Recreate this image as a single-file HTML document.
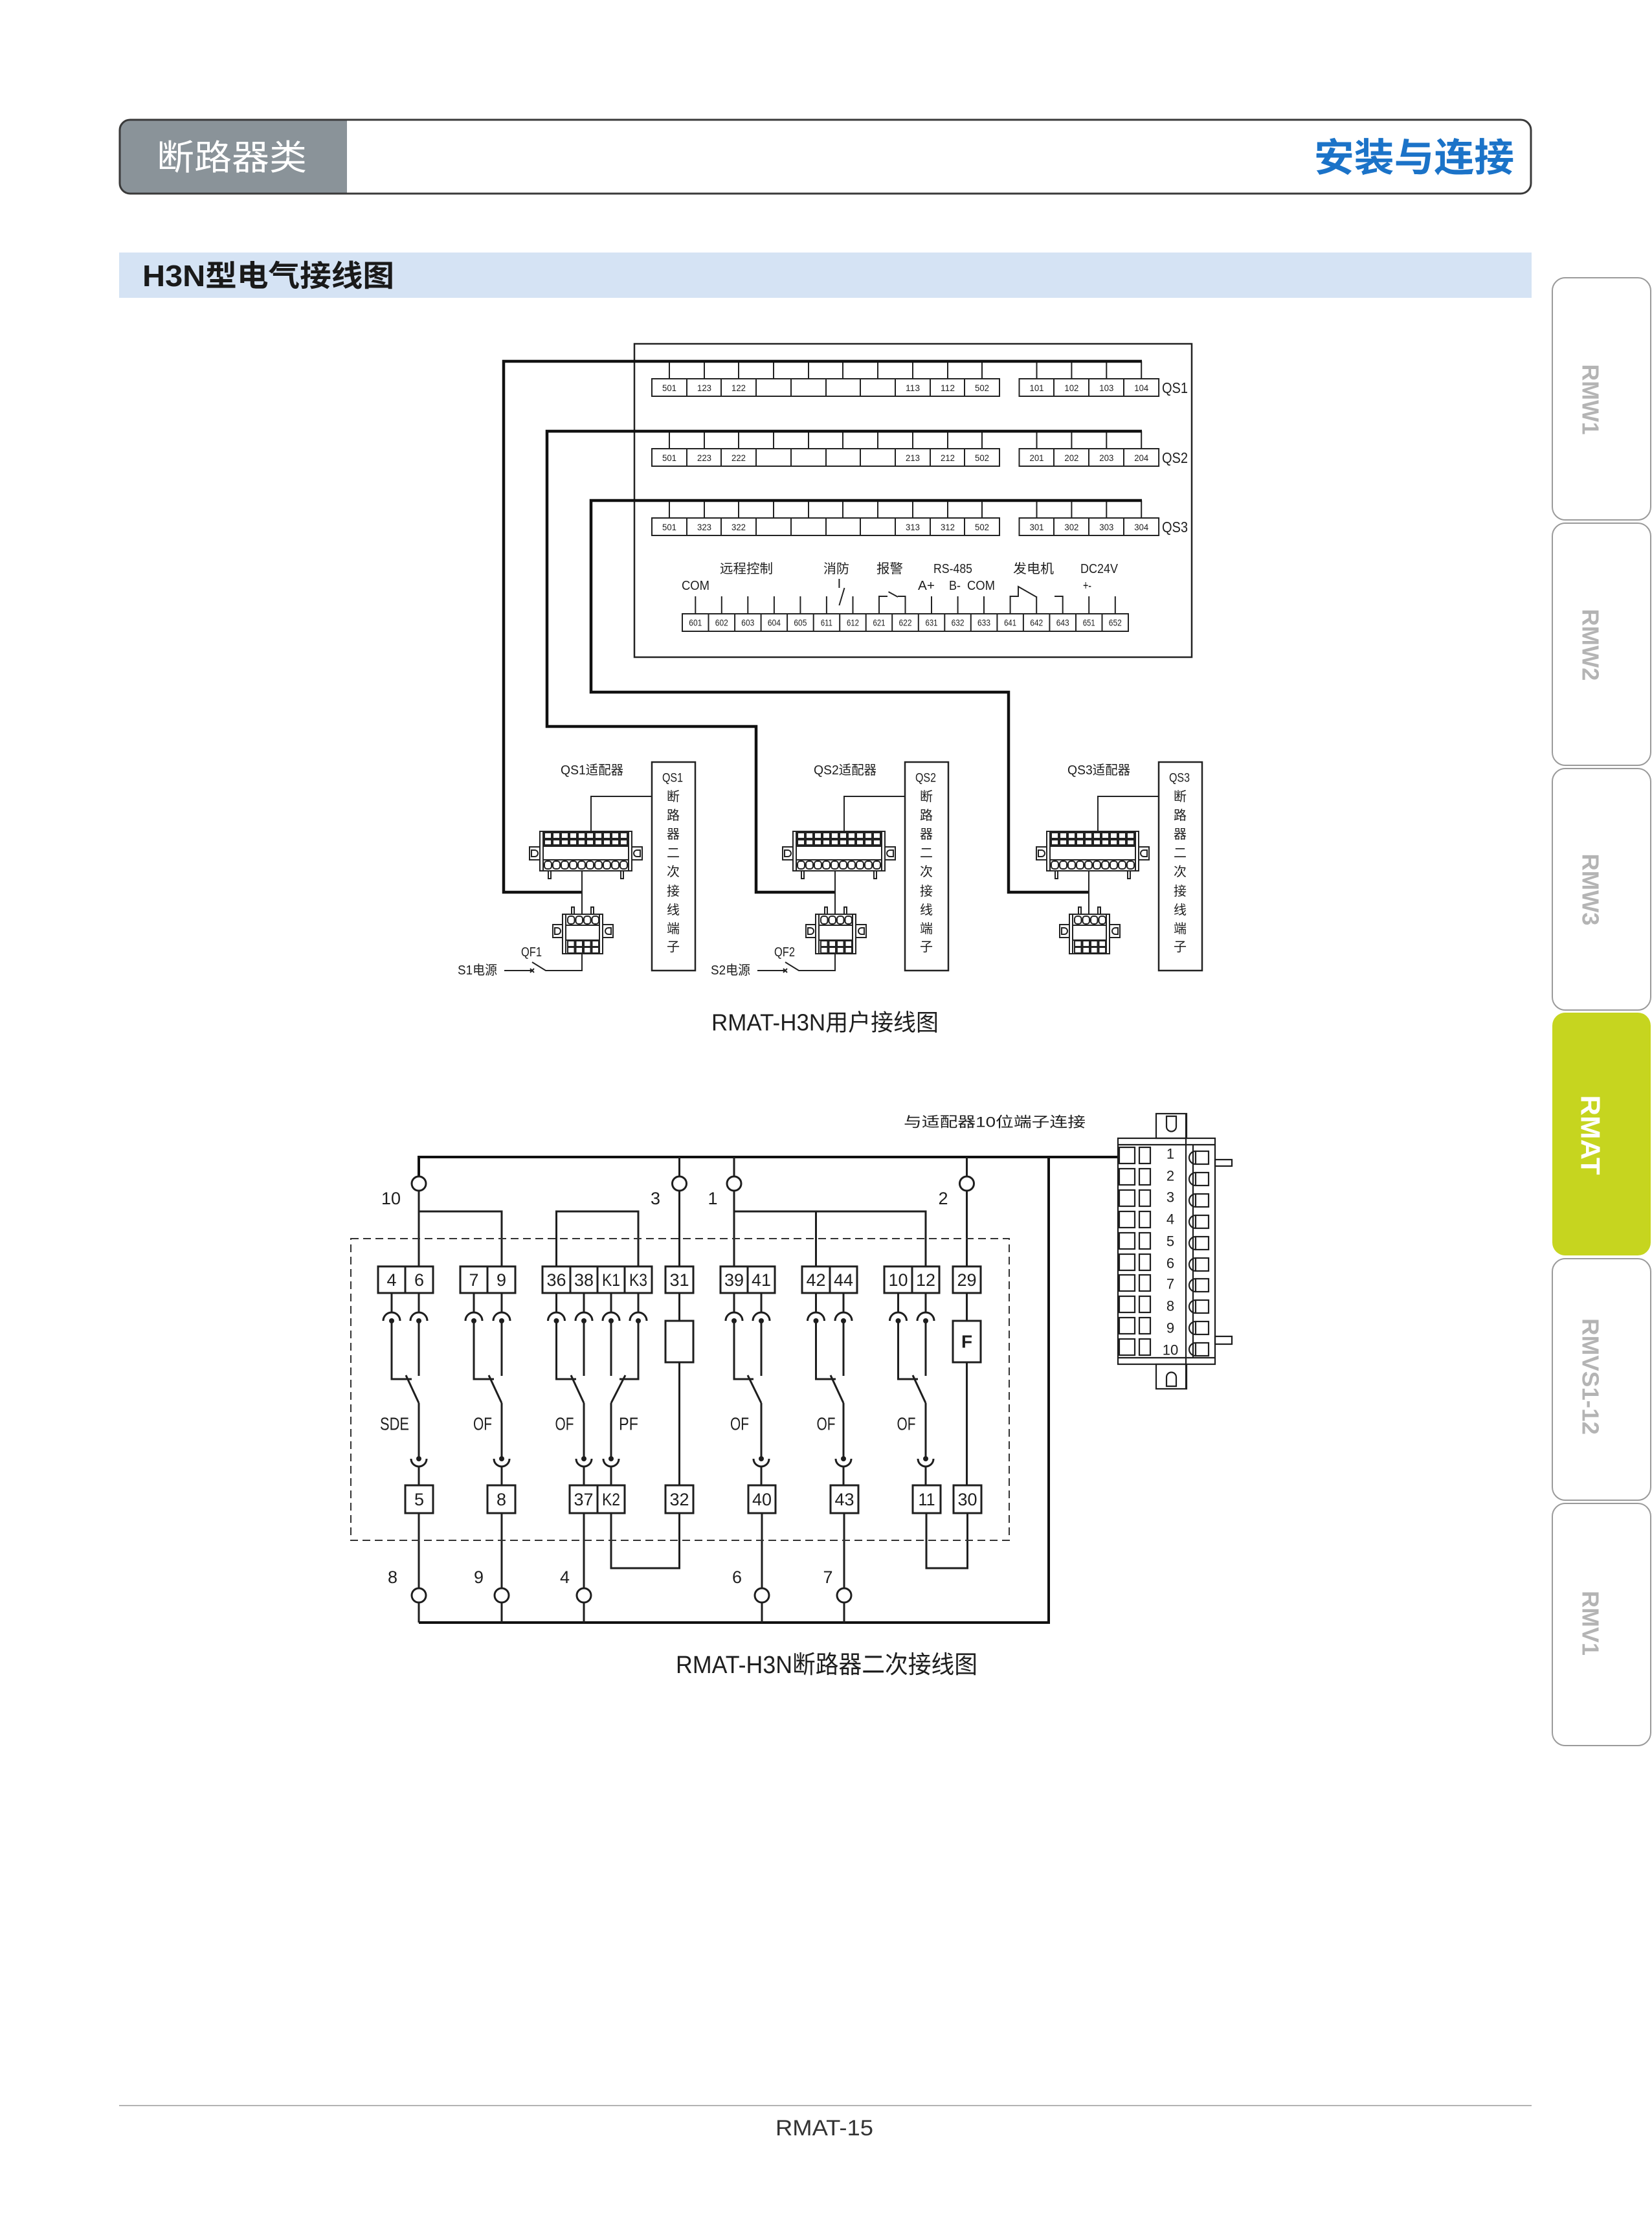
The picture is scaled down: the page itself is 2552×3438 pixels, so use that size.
<!DOCTYPE html>
<html><head><meta charset="utf-8">
<style>
html,body{margin:0;padding:0;background:#fff;}
svg{display:block;}
text{font-family:"Liberation Sans","Noto Sans CJK SC",sans-serif;fill:#1e1e1e;}
</style></head><body>
<svg width="2552" height="3438" viewBox="0 0 2552 3438" xmlns="http://www.w3.org/2000/svg">
<defs>
<g id="trow" fill="none" stroke="#222" stroke-width="2">
<path d="M1034,558V585M1088,558V585M1141,558V585M1195,558V585M1249,558V585M1302,558V585M1356,558V585M1410,558V585M1464,558V585M1517,558V585M1601.5,558V585M1655.4,558V585M1709.3,558V585M1763.2,558V585"/>
<rect x="1007" y="585" width="537" height="27"/>
<path d="M1061,585V612M1114,585V612M1168,585V612M1222,585V612M1276,585V612M1329,585V612M1383,585V612M1437,585V612M1490,585V612"/>
<rect x="1574.5" y="585" width="215.6" height="27"/>
<path d="M1628,585V612M1682,585V612M1736,585V612"/>
</g>
<g id="adapter" fill="none" stroke="#222" stroke-width="2">
<rect x="0" y="0" width="142" height="61"/>
<line x1="5" y1="0" x2="5" y2="61"/><line x1="137" y1="0" x2="137" y2="61"/>
<rect x="7" y="2" width="11" height="9"/><rect x="20" y="2" width="11" height="9"/><rect x="33" y="2" width="11" height="9"/><rect x="46" y="2" width="11" height="9"/><rect x="59" y="2" width="11" height="9"/><rect x="72" y="2" width="11" height="9"/><rect x="85" y="2" width="11" height="9"/><rect x="98" y="2" width="11" height="9"/><rect x="111" y="2" width="11" height="9"/><rect x="124" y="2" width="11" height="9"/>
<rect x="7" y="13" width="11" height="8"/><rect x="20" y="13" width="11" height="8"/><rect x="33" y="13" width="11" height="8"/><rect x="46" y="13" width="11" height="8"/><rect x="59" y="13" width="11" height="8"/><rect x="72" y="13" width="11" height="8"/><rect x="85" y="13" width="11" height="8"/><rect x="98" y="13" width="11" height="8"/><rect x="111" y="13" width="11" height="8"/><rect x="124" y="13" width="11" height="8"/>
<line x1="5" y1="23" x2="137" y2="23"/><line x1="5" y1="44" x2="137" y2="44"/>
<rect x="7" y="46" width="11" height="12" rx="4"/><rect x="20" y="46" width="11" height="12" rx="4"/><rect x="33" y="46" width="11" height="12" rx="4"/><rect x="46" y="46" width="11" height="12" rx="4"/><rect x="59" y="46" width="11" height="12" rx="4"/><rect x="72" y="46" width="11" height="12" rx="4"/><rect x="85" y="46" width="11" height="12" rx="4"/><rect x="98" y="46" width="11" height="12" rx="4"/><rect x="111" y="46" width="11" height="12" rx="4"/><rect x="124" y="46" width="11" height="12" rx="4"/>
<rect x="-16" y="24" width="16" height="20"/><path d="M-13,29h5a5,5 0 0 1 0,10h-5Z"/>
<rect x="142" y="24" width="16" height="20"/><path d="M155,29h-5a5,5 0 0 0 0,10h5Z"/>
<rect x="13" y="61" width="4" height="12"/><rect x="125" y="61" width="4" height="12"/>
</g>
<g id="conn4" fill="none" stroke="#222" stroke-width="2">
<rect x="0" y="0" width="62" height="61"/>
<line x1="5" y1="0" x2="5" y2="61"/><line x1="57" y1="0" x2="57" y2="61"/>
<rect x="14" y="-11" width="4" height="11"/><rect x="44" y="-11" width="4" height="11"/>
<rect x="8" y="3" width="10.5" height="12" rx="4"/><rect x="20.5" y="3" width="10.5" height="12" rx="4"/><rect x="33" y="3" width="10.5" height="12" rx="4"/><rect x="45.5" y="3" width="10.5" height="12" rx="4"/>
<line x1="5" y1="17" x2="57" y2="17"/><line x1="5" y1="40" x2="57" y2="40"/>
<rect x="-15" y="16" width="15" height="20"/><path d="M-12,21h4a5,5 0 0 1 0,10h-4Z"/>
<rect x="62" y="16" width="16" height="20"/><path d="M75,21h-4a5,5 0 0 0 0,10h4Z"/>
<rect x="8" y="41" width="10.5" height="9"/><rect x="20.5" y="41" width="10.5" height="9"/><rect x="33" y="41" width="10.5" height="9"/><rect x="45.5" y="41" width="10.5" height="9"/>
<rect x="8" y="51" width="10.5" height="9"/><rect x="20.5" y="51" width="10.5" height="9"/><rect x="33" y="51" width="10.5" height="9"/><rect x="45.5" y="51" width="10.5" height="9"/>
</g>
</defs>

<!-- Header -->
<path d="M536,185H201A16,16 0 0 0 185,201V283A16,16 0 0 0 201,299H536Z" fill="#8a9399"/>
<rect x="185" y="185" width="2180" height="114" rx="16" fill="none" stroke="#3a3a3a" stroke-width="3"/>
<text x="242" y="244" font-size="54" style="fill:#fff" dominant-baseline="central" textLength="232" lengthAdjust="spacingAndGlyphs">断路器类</text>
<text x="2030" y="244" font-size="60" font-weight="bold" style="fill:#1b73c8" dominant-baseline="central" textLength="309" lengthAdjust="spacingAndGlyphs">安装与连接</text>

<!-- Section bar -->
<rect x="184" y="390" width="2182" height="70" fill="#d5e3f4"/>
<text x="220" y="426" font-size="46" font-weight="bold" style="fill:#1a1a1a" dominant-baseline="central" textLength="389" lengthAdjust="spacingAndGlyphs">H3N型电气接线图</text>

<!-- Tabs -->
<g fill="#fff" stroke="#9a9a9a" stroke-width="2">
<rect x="2398" y="429" width="152" height="374" rx="20"/>
<rect x="2398" y="808" width="152" height="374" rx="20"/>
<rect x="2398" y="1187" width="152" height="373" rx="20"/>
<rect x="2398" y="1944" width="152" height="373" rx="20"/>
<rect x="2398" y="2322" width="152" height="374" rx="20"/>
</g>
<rect x="2398" y="1564" width="152" height="375" rx="20" fill="#c6d51f"/>
<g font-weight="bold" text-anchor="middle" dominant-baseline="central">
<text transform="translate(2457,617) rotate(90)" font-size="36" style="fill:#b4b4b4" textLength="109" lengthAdjust="spacingAndGlyphs">RMW1</text>
<text transform="translate(2457,996) rotate(90)" font-size="36" style="fill:#b4b4b4" textLength="111" lengthAdjust="spacingAndGlyphs">RMW2</text>
<text transform="translate(2457,1374) rotate(90)" font-size="36" style="fill:#b4b4b4" textLength="111" lengthAdjust="spacingAndGlyphs">RMW3</text>
<text transform="translate(2457,1753) rotate(90)" font-size="42" style="fill:#fff" textLength="123" lengthAdjust="spacingAndGlyphs">RMAT</text>
<text transform="translate(2457,2126) rotate(90)" font-size="36" style="fill:#b4b4b4" textLength="180" lengthAdjust="spacingAndGlyphs">RMVS1-12</text>
<text transform="translate(2457,2507) rotate(90)" font-size="36" style="fill:#b4b4b4" textLength="100" lengthAdjust="spacingAndGlyphs">RMV1</text>
</g>

<!-- ============ Diagram 1 ============ -->
<rect x="980" y="531" width="861" height="484" fill="none" stroke="#222" stroke-width="2.5"/>
<use href="#trow"/>
<use href="#trow" transform="translate(0,108)"/>
<use href="#trow" transform="translate(0,215)"/>
<g font-size="14" text-anchor="middle" dominant-baseline="central">
<text x="1034" y="599" textLength="22" lengthAdjust="spacingAndGlyphs">501</text>
<text x="1088" y="599" textLength="22" lengthAdjust="spacingAndGlyphs">123</text>
<text x="1141" y="599" textLength="22" lengthAdjust="spacingAndGlyphs">122</text>
<text x="1410" y="599" textLength="22" lengthAdjust="spacingAndGlyphs">113</text>
<text x="1464" y="599" textLength="22" lengthAdjust="spacingAndGlyphs">112</text>
<text x="1517" y="599" textLength="22" lengthAdjust="spacingAndGlyphs">502</text>
<text x="1601.5" y="599" textLength="22" lengthAdjust="spacingAndGlyphs">101</text>
<text x="1655.4" y="599" textLength="22" lengthAdjust="spacingAndGlyphs">102</text>
<text x="1709.3" y="599" textLength="22" lengthAdjust="spacingAndGlyphs">103</text>
<text x="1763.2" y="599" textLength="22" lengthAdjust="spacingAndGlyphs">104</text>
<text x="1034" y="707" textLength="22" lengthAdjust="spacingAndGlyphs">501</text>
<text x="1088" y="707" textLength="22" lengthAdjust="spacingAndGlyphs">223</text>
<text x="1141" y="707" textLength="22" lengthAdjust="spacingAndGlyphs">222</text>
<text x="1410" y="707" textLength="22" lengthAdjust="spacingAndGlyphs">213</text>
<text x="1464" y="707" textLength="22" lengthAdjust="spacingAndGlyphs">212</text>
<text x="1517" y="707" textLength="22" lengthAdjust="spacingAndGlyphs">502</text>
<text x="1601.5" y="707" textLength="22" lengthAdjust="spacingAndGlyphs">201</text>
<text x="1655.4" y="707" textLength="22" lengthAdjust="spacingAndGlyphs">202</text>
<text x="1709.3" y="707" textLength="22" lengthAdjust="spacingAndGlyphs">203</text>
<text x="1763.2" y="707" textLength="22" lengthAdjust="spacingAndGlyphs">204</text>
<text x="1034" y="814" textLength="22" lengthAdjust="spacingAndGlyphs">501</text>
<text x="1088" y="814" textLength="22" lengthAdjust="spacingAndGlyphs">323</text>
<text x="1141" y="814" textLength="22" lengthAdjust="spacingAndGlyphs">322</text>
<text x="1410" y="814" textLength="22" lengthAdjust="spacingAndGlyphs">313</text>
<text x="1464" y="814" textLength="22" lengthAdjust="spacingAndGlyphs">312</text>
<text x="1517" y="814" textLength="22" lengthAdjust="spacingAndGlyphs">502</text>
<text x="1601.5" y="814" textLength="22" lengthAdjust="spacingAndGlyphs">301</text>
<text x="1655.4" y="814" textLength="22" lengthAdjust="spacingAndGlyphs">302</text>
<text x="1709.3" y="814" textLength="22" lengthAdjust="spacingAndGlyphs">303</text>
<text x="1763.2" y="814" textLength="22" lengthAdjust="spacingAndGlyphs">304</text>
</g>
<g font-size="23" dominant-baseline="central">
<text x="1795" y="599" textLength="40" lengthAdjust="spacingAndGlyphs">QS1</text>
<text x="1795" y="707" textLength="40" lengthAdjust="spacingAndGlyphs">QS2</text>
<text x="1795" y="814" textLength="40" lengthAdjust="spacingAndGlyphs">QS3</text>
</g>

<!-- bottom terminal block -->
<g fill="none" stroke="#222" stroke-width="2">
<rect x="1054" y="948" width="689" height="27"/>
<path d="M1094.5,948V975M1135.1,948V975M1175.6,948V975M1216.1,948V975M1256.7,948V975M1297.2,948V975M1337.7,948V975M1378.2,948V975M1418.8,948V975M1459.3,948V975M1499.8,948V975M1540.4,948V975M1580.9,948V975M1621.4,948V975M1662,948V975M1702.5,948V975"/>
<path d="M1074.3,921V948M1114.8,921V948M1155.3,921V948M1195.9,921V948M1236.4,921V948M1276.9,921V948M1317.5,921V948M1439,921V948M1479.6,921V948M1520,921V948M1682.2,921V948M1722.8,921V948"/>
<path d="M1296.4,894V908M1304.5,908L1296.4,935"/>
<path d="M1358,948V921H1371M1372.5,914L1387,922M1387,921H1398.5V948"/>
<path d="M1560.6,948V921H1573V906L1601,922M1601.2,921V948"/>
<path d="M1629,921H1641.7V948"/>
</g>
<g font-size="13.5" text-anchor="middle" dominant-baseline="central">
<text x="1074.3" y="962" textLength="20" lengthAdjust="spacingAndGlyphs">601</text>
<text x="1114.8" y="962" textLength="20" lengthAdjust="spacingAndGlyphs">602</text>
<text x="1155.3" y="962" textLength="20" lengthAdjust="spacingAndGlyphs">603</text>
<text x="1195.9" y="962" textLength="20" lengthAdjust="spacingAndGlyphs">604</text>
<text x="1236.4" y="962" textLength="20" lengthAdjust="spacingAndGlyphs">605</text>
<text x="1276.9" y="962" textLength="18" lengthAdjust="spacingAndGlyphs">611</text>
<text x="1317.5" y="962" textLength="19" lengthAdjust="spacingAndGlyphs">612</text>
<text x="1358" y="962" textLength="19" lengthAdjust="spacingAndGlyphs">621</text>
<text x="1398.5" y="962" textLength="20" lengthAdjust="spacingAndGlyphs">622</text>
<text x="1439" y="962" textLength="19" lengthAdjust="spacingAndGlyphs">631</text>
<text x="1479.6" y="962" textLength="20" lengthAdjust="spacingAndGlyphs">632</text>
<text x="1520" y="962" textLength="20" lengthAdjust="spacingAndGlyphs">633</text>
<text x="1560.6" y="962" textLength="19" lengthAdjust="spacingAndGlyphs">641</text>
<text x="1601.2" y="962" textLength="20" lengthAdjust="spacingAndGlyphs">642</text>
<text x="1641.7" y="962" textLength="20" lengthAdjust="spacingAndGlyphs">643</text>
<text x="1682.2" y="962" textLength="19" lengthAdjust="spacingAndGlyphs">651</text>
<text x="1722.8" y="962" textLength="20" lengthAdjust="spacingAndGlyphs">652</text>
</g>
<g font-size="20" dominant-baseline="central">
<text x="1112" y="879" textLength="82" lengthAdjust="spacingAndGlyphs">远程控制</text>
<text x="1272" y="879" textLength="40" lengthAdjust="spacingAndGlyphs">消防</text>
<text x="1354" y="879" textLength="41" lengthAdjust="spacingAndGlyphs">报警</text>
<text x="1442" y="879" textLength="60" lengthAdjust="spacingAndGlyphs">RS-485</text>
<text x="1565" y="879" textLength="63" lengthAdjust="spacingAndGlyphs">发电机</text>
<text x="1669" y="879" textLength="58" lengthAdjust="spacingAndGlyphs">DC24V</text>
<text x="1053" y="905" textLength="43" lengthAdjust="spacingAndGlyphs">COM</text>
<text x="1418" y="905" textLength="26" lengthAdjust="spacingAndGlyphs">A+</text>
<text x="1466" y="905" textLength="18" lengthAdjust="spacingAndGlyphs">B-</text>
<text x="1494" y="905" textLength="43" lengthAdjust="spacingAndGlyphs">COM</text>
<text x="1673" y="905" textLength="13" lengthAdjust="spacingAndGlyphs">+-</text>
</g>

<!-- thick connecting lines -->
<g fill="none" stroke="#111" stroke-width="4.5">
<path d="M1764,558H778V1378H899"/>
<path d="M1764,666H845V1122H1168V1378H1290"/>
<path d="M1764,773H913V1069H1558V1378H1682"/>
</g>

<!-- adapters: QS1 / QS2 / QS3 -->
<g id="qsgrp1">
<rect x="1007" y="1177" width="67" height="322" fill="none" stroke="#222" stroke-width="2.5"/>
<path d="M1007,1230H913V1284M899,1345V1412" fill="none" stroke="#222" stroke-width="2"/>
<use href="#adapter" transform="translate(834,1284)"/>
<use href="#conn4" transform="translate(869,1412)"/>
</g>
<use href="#qsgrp1" transform="translate(391,0)"/>
<use href="#qsgrp1" transform="translate(783,0)"/>
<!-- power switches -->
<g fill="none" stroke="#222" stroke-width="2">
<path d="M899,1473V1499H843L822,1486M779,1499H822M819,1496L825,1502M825,1496L819,1502"/>
<path d="M1290,1473V1499H1234L1213,1486M1170,1499H1213M1210,1496L1216,1502M1216,1496L1210,1502"/>
</g>
<g font-size="20" dominant-baseline="central">
<text x="866" y="1190" textLength="97" lengthAdjust="spacingAndGlyphs">QS1适配器</text>
<text x="1257" y="1190" textLength="97" lengthAdjust="spacingAndGlyphs">QS2适配器</text>
<text x="1649" y="1190" textLength="97" lengthAdjust="spacingAndGlyphs">QS3适配器</text>
<text x="805" y="1471" textLength="32" lengthAdjust="spacingAndGlyphs">QF1</text>
<text x="1196" y="1471" textLength="32" lengthAdjust="spacingAndGlyphs">QF2</text>
<text x="707" y="1499" textLength="61" lengthAdjust="spacingAndGlyphs">S1电源</text>
<text x="1098" y="1499" textLength="61" lengthAdjust="spacingAndGlyphs">S2电源</text>
</g>
<g font-size="20" text-anchor="middle" dominant-baseline="central">
<text x="1039" y="1202" font-size="19" textLength="32" lengthAdjust="spacingAndGlyphs">QS1</text>
<text x="1040" y="1231">断</text><text x="1040" y="1260">路</text><text x="1040" y="1289">器</text><text x="1040" y="1318">二</text><text x="1040" y="1347">次</text><text x="1040" y="1377">接</text><text x="1040" y="1406">线</text><text x="1040" y="1435">端</text><text x="1040" y="1463">子</text>
<text x="1430" y="1202" font-size="19" textLength="32" lengthAdjust="spacingAndGlyphs">QS2</text>
<text x="1431" y="1231">断</text><text x="1431" y="1260">路</text><text x="1431" y="1289">器</text><text x="1431" y="1318">二</text><text x="1431" y="1347">次</text><text x="1431" y="1377">接</text><text x="1431" y="1406">线</text><text x="1431" y="1435">端</text><text x="1431" y="1463">子</text>
<text x="1822" y="1202" font-size="19" textLength="32" lengthAdjust="spacingAndGlyphs">QS3</text>
<text x="1823" y="1231">断</text><text x="1823" y="1260">路</text><text x="1823" y="1289">器</text><text x="1823" y="1318">二</text><text x="1823" y="1347">次</text><text x="1823" y="1377">接</text><text x="1823" y="1406">线</text><text x="1823" y="1435">端</text><text x="1823" y="1463">子</text>
</g>
<text x="1099" y="1579" font-size="36" dominant-baseline="central" textLength="351" lengthAdjust="spacingAndGlyphs">RMAT-H3N用户接线图</text>

<!-- ============ Diagram 2 ============ -->
<text x="1396" y="1733" font-size="22" dominant-baseline="central" textLength="281" lengthAdjust="spacingAndGlyphs">与适配器10位端子连接</text>
<g fill="none" stroke="#111" stroke-width="4">
<path d="M647,1817V1787H1727"/>
<path d="M1620,1787V2506H647"/>
</g>
<g fill="none" stroke="#1e1e1e" stroke-width="3">
<path d="M1049.5,1787V1817M1134,1787V1817M1493.5,1787V1817"/>
<circle cx="647" cy="1828" r="11"/><circle cx="1049.5" cy="1828" r="11"/><circle cx="1134" cy="1828" r="11"/><circle cx="1493.5" cy="1828" r="11"/>
<path d="M647,1839V1956M647,1871H775V1956M859.5,1956V1871H986V1956M1049.5,1839V1956M1134,1839V1956M1134,1871H1430V1956M1260.5,1871V1956M1493.5,1839V1956"/>
<!-- top boxes -->
<rect x="584" y="1956" width="85" height="41"/><path d="M626,1956V1997"/>
<rect x="711" y="1956" width="85" height="41"/><path d="M753,1956V1997"/>
<rect x="838" y="1956" width="169" height="41"/><path d="M881,1956V1997M923,1956V1997M965,1956V1997"/>
<rect x="1028" y="1956" width="43" height="41"/>
<rect x="1113" y="1956" width="84" height="41"/><path d="M1155,1956V1997"/>
<rect x="1239" y="1956" width="85" height="41"/><path d="M1282,1956V1997"/>
<rect x="1366" y="1956" width="85" height="41"/><path d="M1409,1956V1997"/>
<rect x="1472" y="1956" width="43" height="41"/>
<!-- upper contacts: verticals to arc top, arcs, lines down -->
<path d="M605,1997V2027M647,1997V2027M732,1997V2027M775,1997V2027M859.5,1997V2027M902,1997V2027M944,1997V2027M986,1997V2027M1134,1997V2027M1176,1997V2027M1260.5,1997V2027M1303,1997V2027M1387.5,1997V2027M1430,1997V2027"/>
<path d="M592,2040A13,13 0 0 1 618,2040M634,2040A13,13 0 0 1 660,2040M719,2040A13,13 0 0 1 745,2040M762,2040A13,13 0 0 1 788,2040M846.5,2040A13,13 0 0 1 872.5,2040M889,2040A13,13 0 0 1 915,2040M931,2040A13,13 0 0 1 957,2040M973,2040A13,13 0 0 1 999,2040M1121,2040A13,13 0 0 1 1147,2040M1163,2040A13,13 0 0 1 1189,2040M1247.5,2040A13,13 0 0 1 1273.5,2040M1290,2040A13,13 0 0 1 1316,2040M1374.5,2040A13,13 0 0 1 1400.5,2040M1417,2040A13,13 0 0 1 1443,2040"/>
<!-- fixed contacts + horizontals -->
<path d="M605,2040V2130H636M732,2040V2130H763M859.5,2040V2130H890M986,2040V2130H957M1134,2040V2130H1164M1260.5,2040V2130H1291M1387.5,2040V2130H1418"/>
<!-- open ends -->
<path d="M647,2040V2125M775,2040V2125M902,2040V2125M944,2040V2125M1176,2040V2125M1303,2040V2125M1430,2040V2125"/>
<!-- arms -->
<path d="M627,2124L647,2167M755,2124L775,2167M882,2124L902,2167M966,2124L944,2167M1155,2124L1176,2167M1283,2124L1303,2167M1410,2124L1430,2167"/>
<!-- lower lines -->
<path d="M647,2167V2253M775,2167V2253M902,2167V2253M944,2167V2253M1176,2167V2253M1303,2167V2253M1430,2167V2253"/>
<path d="M635,2253A12,12 0 0 0 659,2253M763,2253A12,12 0 0 0 787,2253M890,2253A12,12 0 0 0 914,2253M932,2253A12,12 0 0 0 956,2253M1164,2253A12,12 0 0 0 1188,2253M1291,2253A12,12 0 0 0 1315,2253M1418,2253A12,12 0 0 0 1442,2253"/>
<path d="M647,2265V2294M775,2265V2294M902,2265V2294M944,2265V2294M1176,2265V2294M1303,2265V2294M1430,2265V2294"/>
<!-- 31 coil and 29 F -->
<path d="M1049.5,1997V2040M1049.5,2104V2294M1493.5,1997V2040M1493.5,2104V2294"/>
<rect x="1028" y="2040" width="43" height="64"/>
<rect x="1472" y="2040" width="43" height="64"/>
<!-- lower boxes -->
<rect x="626" y="2294" width="43" height="43"/>
<rect x="753" y="2294" width="43" height="43"/>
<rect x="880" y="2294" width="85" height="43"/><path d="M923,2294V2337"/>
<rect x="1028" y="2294" width="43" height="43"/>
<rect x="1156" y="2294" width="42" height="43"/>
<rect x="1283" y="2294" width="43" height="43"/>
<rect x="1410" y="2294" width="43" height="43"/>
<rect x="1473" y="2294" width="43" height="43"/>
<!-- below lower boxes -->
<path d="M647,2337V2453M775,2337V2453M902,2337V2453M1177,2337V2453M1304,2337V2453"/>
<circle cx="647" cy="2464" r="11"/><circle cx="775" cy="2464" r="11"/><circle cx="902" cy="2464" r="11"/><circle cx="1177" cy="2464" r="11"/><circle cx="1304" cy="2464" r="11"/>
<path d="M647,2475V2506M775,2475V2506M902,2475V2506M1177,2475V2506M1304,2475V2506"/>
<path d="M944,2337V2422H1049.5V2337M1431,2337V2422H1494.5V2337"/>
</g>
<!-- dots -->
<g fill="#1e1e1e">
<circle cx="605" cy="2040" r="4"/><circle cx="647" cy="2040" r="4"/><circle cx="732" cy="2040" r="4"/><circle cx="775" cy="2040" r="4"/><circle cx="859.5" cy="2040" r="4"/><circle cx="902" cy="2040" r="4"/><circle cx="944" cy="2040" r="4"/><circle cx="986" cy="2040" r="4"/><circle cx="1134" cy="2040" r="4"/><circle cx="1176" cy="2040" r="4"/><circle cx="1260.5" cy="2040" r="4"/><circle cx="1303" cy="2040" r="4"/><circle cx="1387.5" cy="2040" r="4"/><circle cx="1430" cy="2040" r="4"/>
<circle cx="647" cy="2253" r="4"/><circle cx="775" cy="2253" r="4"/><circle cx="902" cy="2253" r="4"/><circle cx="944" cy="2253" r="4"/><circle cx="1176" cy="2253" r="4"/><circle cx="1303" cy="2253" r="4"/><circle cx="1430" cy="2253" r="4"/>
</g>
<!-- dashed box -->
<rect x="542" y="1913" width="1017" height="466" fill="none" stroke="#333" stroke-width="2" stroke-dasharray="12 7"/>
<!-- diagram 2 labels -->
<g font-size="27" text-anchor="middle" dominant-baseline="central">
<text x="605" y="1977">4</text><text x="647.5" y="1977">6</text>
<text x="732" y="1977">7</text><text x="774.5" y="1977">9</text>
<text x="859.5" y="1977">36</text><text x="902" y="1977">38</text><text x="944" y="1977" textLength="28" lengthAdjust="spacingAndGlyphs">K1</text><text x="986" y="1977" textLength="28" lengthAdjust="spacingAndGlyphs">K3</text>
<text x="1049.5" y="1977">31</text>
<text x="1134" y="1977">39</text><text x="1176" y="1977">41</text>
<text x="1260.5" y="1977">42</text><text x="1303" y="1977">44</text>
<text x="1387.5" y="1977">10</text><text x="1430" y="1977">12</text>
<text x="1493.5" y="1977">29</text>
<text x="1493.5" y="2072" font-weight="bold" font-size="28">F</text>
<text x="647.5" y="2316">5</text><text x="774.5" y="2316">8</text>
<text x="901.5" y="2316">37</text><text x="944" y="2316" textLength="28" lengthAdjust="spacingAndGlyphs">K2</text>
<text x="1049.5" y="2316">32</text><text x="1177" y="2316">40</text><text x="1304.5" y="2316">43</text>
<text x="1431.5" y="2316" textLength="26" lengthAdjust="spacingAndGlyphs">11</text><text x="1494.5" y="2316">30</text>
<text x="604" y="1851">10</text><text x="1012.5" y="1851">3</text><text x="1101" y="1851">1</text><text x="1457" y="1851">2</text>
<text x="606.5" y="2436">8</text><text x="739.5" y="2436">9</text><text x="872.5" y="2436">4</text><text x="1138.5" y="2436">6</text><text x="1279" y="2436">7</text>
</g>
<g font-size="28" text-anchor="middle" dominant-baseline="central">
<text x="609.5" y="2199" textLength="45" lengthAdjust="spacingAndGlyphs">SDE</text>
<text x="745.5" y="2199" textLength="29" lengthAdjust="spacingAndGlyphs">OF</text>
<text x="872" y="2199" textLength="29" lengthAdjust="spacingAndGlyphs">OF</text>
<text x="971" y="2199" textLength="30" lengthAdjust="spacingAndGlyphs">PF</text>
<text x="1142.5" y="2199" textLength="29" lengthAdjust="spacingAndGlyphs">OF</text>
<text x="1276" y="2199" textLength="29" lengthAdjust="spacingAndGlyphs">OF</text>
<text x="1400" y="2199" textLength="29" lengthAdjust="spacingAndGlyphs">OF</text>
</g>

<!-- 10-pin connector -->
<g fill="none" stroke="#1e1e1e" stroke-width="2.2">
<rect x="1727" y="1758" width="150" height="349"/>
<path d="M1727,1768H1877M1727,2097H1877M1832,1720V2145M1843,1768V2097"/>
<rect x="1786" y="1720" width="47" height="38"/>
<path d="M1802,1724H1817V1740A7.5,7.5 0 0 1 1802,1740Z"/>
<rect x="1786" y="2107" width="47" height="38"/>
<path d="M1802,2141H1817V2127A7.5,7.5 0 0 0 1802,2127Z"/>
<rect x="1877" y="1791" width="26" height="10"/>
<rect x="1877" y="2064" width="26" height="12"/>
<rect x="1729" y="1772" width="24" height="25"/><rect x="1760" y="1772" width="17" height="25"/>
<rect x="1729" y="1805" width="24" height="25"/><rect x="1760" y="1805" width="17" height="25"/>
<rect x="1729" y="1838" width="24" height="25"/><rect x="1760" y="1838" width="17" height="25"/>
<rect x="1729" y="1871" width="24" height="25"/><rect x="1760" y="1871" width="17" height="25"/>
<rect x="1729" y="1904" width="24" height="25"/><rect x="1760" y="1904" width="17" height="25"/>
<rect x="1729" y="1937" width="24" height="25"/><rect x="1760" y="1937" width="17" height="25"/>
<rect x="1729" y="1969" width="24" height="25"/><rect x="1760" y="1969" width="17" height="25"/>
<rect x="1729" y="2002" width="24" height="25"/><rect x="1760" y="2002" width="17" height="25"/>
<rect x="1729" y="2035" width="24" height="25"/><rect x="1760" y="2035" width="17" height="25"/>
<rect x="1729" y="2068" width="24" height="25"/><rect x="1760" y="2068" width="17" height="25"/>
<rect x="1847" y="1778" width="20" height="20"/><path d="M1847,1778A10,10 0 0 0 1847,1798"/>
<rect x="1847" y="1811" width="20" height="20"/><path d="M1847,1811A10,10 0 0 0 1847,1831"/>
<rect x="1847" y="1844" width="20" height="20"/><path d="M1847,1844A10,10 0 0 0 1847,1864"/>
<rect x="1847" y="1877" width="20" height="20"/><path d="M1847,1877A10,10 0 0 0 1847,1897"/>
<rect x="1847" y="1910" width="20" height="20"/><path d="M1847,1910A10,10 0 0 0 1847,1930"/>
<rect x="1847" y="1943" width="20" height="20"/><path d="M1847,1943A10,10 0 0 0 1847,1963"/>
<rect x="1847" y="1975" width="20" height="20"/><path d="M1847,1975A10,10 0 0 0 1847,1995"/>
<rect x="1847" y="2008" width="20" height="20"/><path d="M1847,2008A10,10 0 0 0 1847,2028"/>
<rect x="1847" y="2041" width="20" height="20"/><path d="M1847,2041A10,10 0 0 0 1847,2061"/>
<rect x="1847" y="2074" width="20" height="20"/><path d="M1847,2074A10,10 0 0 0 1847,2094"/>
</g>
<g font-size="22" text-anchor="middle" dominant-baseline="central">
<text x="1808" y="1782">1</text><text x="1808" y="1816">2</text><text x="1808" y="1849">3</text><text x="1808" y="1883">4</text><text x="1808" y="1917">5</text>
<text x="1808" y="1951">6</text><text x="1808" y="1983">7</text><text x="1808" y="2017">8</text><text x="1808" y="2051">9</text><text x="1808" y="2085">10</text>
</g>

<text x="1044" y="2572" font-size="38" dominant-baseline="central" textLength="466" lengthAdjust="spacingAndGlyphs">RMAT-H3N断路器二次接线图</text>

<!-- Footer -->
<line x1="184" y1="3252" x2="2366" y2="3252" stroke="#9a9a9a" stroke-width="1.5"/>
<text x="1198" y="3287" font-size="34" style="fill:#333" dominant-baseline="central" textLength="151" lengthAdjust="spacingAndGlyphs">RMAT-15</text>
</svg>
</body></html>
